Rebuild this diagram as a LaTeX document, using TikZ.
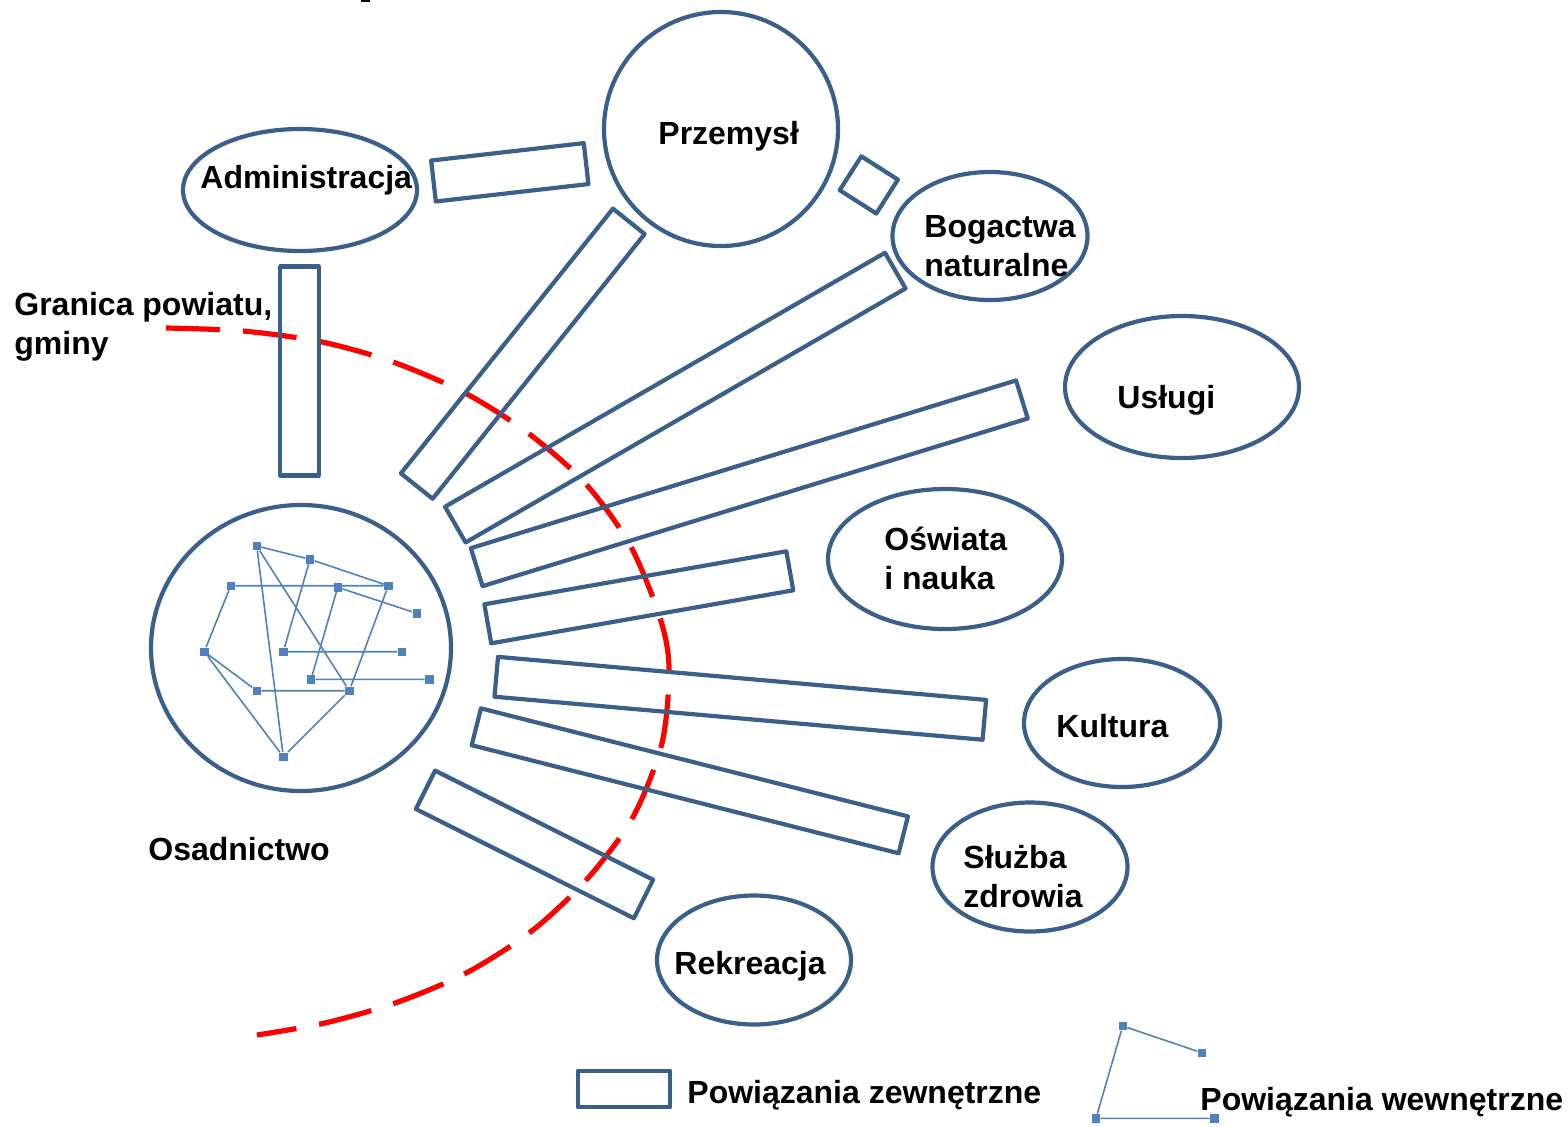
\documentclass[tikz,border=0pt]{standalone}
\usepackage{fontspec}
\setmainfont{Liberation Sans}
\usetikzlibrary{shapes.geometric}
\definecolor{obrys}{HTML}{3A5F8B}
\definecolor{siatka}{HTML}{4F81BD}
\begin{document}
\begin{tikzpicture}[x=0.5pt,y=-0.5pt,line join=round,
  sfera/.style={draw=obrys,line width=2.1pt,ellipse,inner sep=0pt},
  pas/.style={draw=obrys,line width=2.1pt,rectangle,inner sep=0pt},
  napis/.style={font=\fontsize{16}{19.5}\selectfont\bfseries,inner sep=0pt,align=left},
  punkt/.style={fill=siatka,minimum size=4.2pt,inner sep=0pt},
  lacze/.style={draw=siatka,line width=0.8pt},
  granica/.style={draw=red,line width=2.6pt,dash pattern=on 27pt off 11.5pt}]
\useasboundingbox (0,0) rectangle (1568,1126);
\fill (361,0) rectangle (370,2);

% granica powiatu
\draw[granica] plot[smooth] coordinates {(166,328) (243,331) (322,342) (393,362)
  (465,393) (528,433) (585,483) (630,545) (660,618) (669,668) (662,743) (633,817)
  (588,878) (533,930) (468,972) (398,1002) (325,1023) (257,1035)};

% sfery
\node[sfera,minimum width=117pt,minimum height=117pt] (przemysl) at (721,129) {};
\node[sfera,minimum width=117pt,minimum height=61pt] (admin) at (300,190) {};
\node[sfera,minimum width=97.5pt,minimum height=64pt] (bogactwa) at (990,236) {};
\node[sfera,minimum width=117pt,minimum height=71pt] (uslugi) at (1182,387) {};
\node[sfera,minimum width=117pt,minimum height=70pt] (oswiata) at (945,559) {};
\node[sfera,minimum width=98pt,minimum height=64pt] (kultura) at (1122,723) {};
\node[sfera,minimum width=97.5pt,minimum height=64.5pt] (zdrowie) at (1030,867) {};
\node[sfera,minimum width=97pt,minimum height=64.5pt] (rekreacja) at (754,960) {};
\node[sfera,minimum width=150pt,minimum height=143pt] (osad) at (301,648) {};

% powiazania zewnetrzne
\node[pas,minimum width=76.8pt,minimum height=20.6pt,rotate=6.5] (p1) at (509.8,172.3) {};
\node[pas,minimum width=19.2pt,minimum height=104.5pt] (p2) at (299.5,371) {};
\node[pas,minimum width=169.6pt,minimum height=20.3pt,rotate=51.3] (p3) at (522.8,353.7) {};
\node[pas,minimum width=254pt,minimum height=20.6pt,rotate=30] (p4) at (675.3,397.6) {};
\node[pas,minimum width=285.2pt,minimum height=19.9pt,rotate=17.1] (p5) at (749.3,483.3) {};
\node[pas,minimum width=153.3pt,minimum height=19.8pt,rotate=9.95] (p6) at (638.8,597.3) {};
\node[pas,minimum width=245pt,minimum height=20pt,rotate=-5.04] (p7) at (740.3,698.3) {};
\node[pas,minimum width=220.2pt,minimum height=19pt,rotate=-14.2] (p8) at (689.8,780.8) {};
\node[pas,minimum width=121.9pt,minimum height=21.5pt,rotate=-26.6] (p9) at (534.5,844.4) {};
\node[pas,minimum width=21.7pt,minimum height=20.1pt,rotate=-32.5] (p10) at (868.8,184.9) {};

% napisy
\node[napis,anchor=base west] (tprzemysl) at (658,144) {Przemysł};
\node[napis,anchor=base west] (tadmin) at (200,188) {Administracja};
\node[napis,anchor=west] (tbogactwa) at (924,246) {Bogactwa\\naturalne};
\node[napis,anchor=base west] (tuslugi) at (1117,408) {Usługi};
\node[napis,anchor=west] (toswiata) at (884,558.5) {Oświata\\i nauka};
\node[napis,anchor=base west] (tkultura) at (1056,737) {Kultura};
\node[napis,anchor=west] (tzdrowie) at (963,877) {Służba\\zdrowia};
\node[napis,anchor=base west] (trekreacja) at (674,974) {Rekreacja};
\node[napis,anchor=base west] (tosad) at (148,860) {Osadnictwo};
\node[napis,anchor=west] (tgranica) at (14,327) {Granica powiatu,\\gminy};

% siec osadnicza
\node[punkt] (a) at (256.7,546) {};
\node[punkt] (b) at (310,559.3) {};
\node[punkt] (c) at (230.7,585.7) {};
\node[punkt] (d) at (337.7,587.3) {};
\node[punkt] (e) at (388.3,585.7) {};
\node[punkt] (f) at (416.7,613.3) {};
\node[punkt] (g) at (204.3,651.7) {};
\node[punkt] (h) at (283.3,651.7) {};
\node[punkt] (i) at (401.7,651.7) {};
\node[punkt] (j) at (311,679.3) {};
\node[punkt] (k) at (429.3,679.3) {};
\node[punkt] (l) at (256.7,690.7) {};
\node[punkt] (m) at (349.3,690.7) {};
\node[punkt] (n) at (283.3,756.7) {};
\draw[lacze] (a) -- (b) (b) -- (e) (a) -- (n) (a) -- (m) (b) -- (h)
  (c) -- (e) (d) -- (f) (d) -- (j) (e) -- (m) (c) -- (g) (g) -- (l)
  (l) -- (m) (g) -- (n) (n) -- (m) (h) -- (i) (j) -- (k);

% legenda
\node[pas,minimum width=46pt,minimum height=18pt] (lpas) at (624,1089) {};
\node[napis,anchor=base west] (tlpas) at (687,1103) {Powiązania zewnętrzne};
\node[punkt] (q1) at (1122.7,1026) {};
\node[punkt] (q2) at (1201.7,1052.7) {};
\node[punkt] (q3) at (1096,1118.3) {};
\node[punkt] (q4) at (1214.3,1118.3) {};
\draw[lacze] (q1) -- (q2) (q1) -- (q3) (q3) -- (q4);
\node[napis,anchor=base west] (tlsiec) at (1200,1110) {Powiązania wewnętrzne};
\end{tikzpicture}
\end{document}
